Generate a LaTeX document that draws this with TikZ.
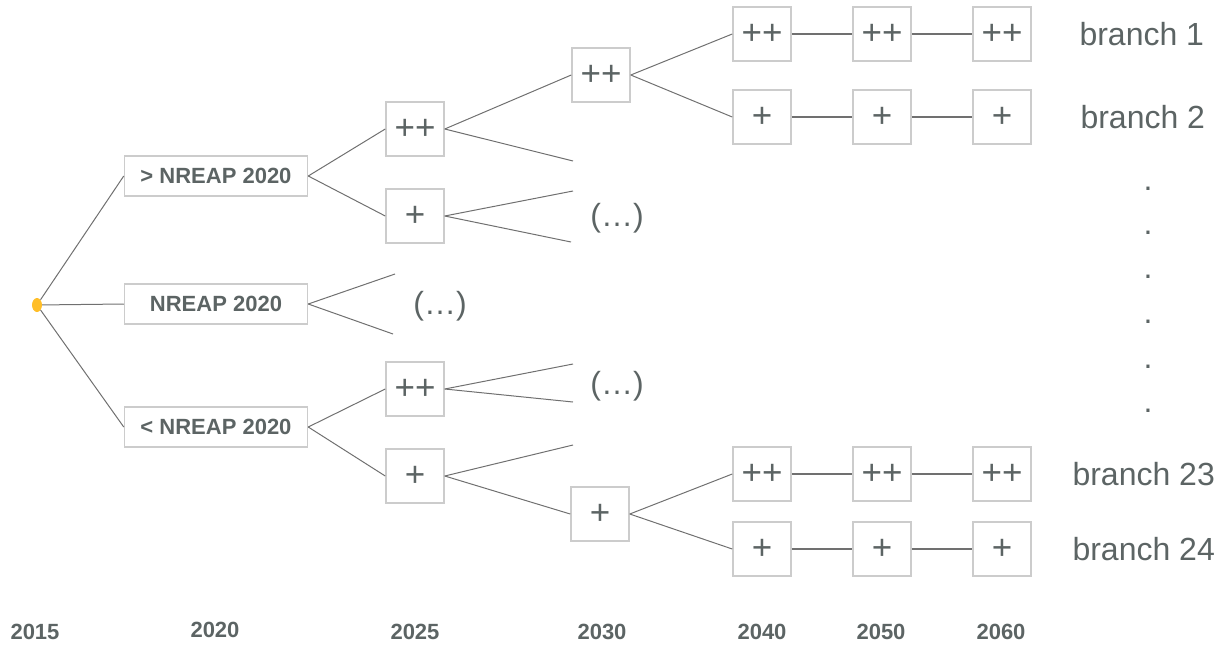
\documentclass[tikz,border=0pt]{standalone}
\usepackage{fontspec}
\setmainfont{Liberation Sans}
\usetikzlibrary{arrows,shapes}
\definecolor{txtgray}{RGB}{92,100,100}
\definecolor{boxgray}{RGB}{204,204,204}
\definecolor{linegray}{RGB}{112,112,112}
\definecolor{rootorange}{RGB}{255,190,40}
\tikzstyle{root}=[ellipse,fill=rootorange,minimum width=10pt,minimum height=14pt,inner sep=0pt]
\tikzstyle{scen}=[draw=boxgray,line width=1.5pt,minimum width=183pt,minimum height=40pt,inner sep=0pt,text=txtgray,font=\fontsize{22}{26}\selectfont\bfseries]
\tikzstyle{lvl}=[draw=boxgray,line width=1.5pt,minimum width=58pt,minimum height=54pt,inner sep=0pt,text=txtgray,font=\fontsize{35}{40}\selectfont]
\tikzstyle{yr}=[text=txtgray,font=\fontsize{22}{26}\selectfont\bfseries]
\tikzstyle{tag}=[text=txtgray,font=\fontsize{32}{38}\selectfont]
\tikzstyle{edge} = [draw=linegray,line width=1pt,-]
\tikzstyle{chain} = [draw=linegray,line width=1.4pt,-]

\begin{document}
\begin{tikzpicture}[x=1pt,y=-1pt]
    \useasboundingbox (0,0) rectangle (1226,646);
    % Root and the three 2020 scenarios
    \node[root] (root) at (37,305) {};
    \foreach \pos/\name/\txt in {{(216,176)/gt/> NREAP 2020}, {(216,304)/eq/NREAP 2020}, {(216,427)/lt/< NREAP 2020}}
        \node[scen] (\name) at \pos {\txt};

    % Boxes of 2025 and 2030
    \foreach \pos/\name/\txt in {{(415,129)/A_pp/++}, {(415,216)/A_p/+}, {(415,389)/C_pp/++}, {(415,476)/C_p/+}, {(601,75)/D_pp/++}, {(600,514)/D_p/+}}
        \node[lvl] (\name) at \pos {\txt};

    % Boxes of 2040, 2050 and 2060
    \foreach \x/\yr in {762/40, 882/50, 1002/60}
    {
        \node[lvl] (b1_\yr) at (\x,34) {++};
        \node[lvl] (b2_\yr) at (\x,117) {+};
        \node[lvl] (b23_\yr) at (\x,474) {++};
        \node[lvl] (b24_\yr) at (\x,549) {+};
    }

    % Loose ends of the branches that are not shown
    \foreach \x/\y/\name in {395/274/e_1, 393/334/e_2, 573/161/e_3, 573/191/e_4, 571/242/e_5, 573/364/e_6, 573/402/e_7, 573/445/e_8}
        \coordinate (\name) at (\x,\y);

    % Connect the boxes
    \foreach \source/\dest in {root/gt.west, root/eq.west, root/lt.west}
        \path[edge] (\source) -- (\dest);
    \foreach \source/\dest in {gt.east/A_pp.west, gt.east/A_p.west, eq.east/e_1, eq.east/e_2, lt.east/C_pp.west, lt.east/C_p.west}
        \path[edge] (\source) -- (\dest);
    \foreach \source/\dest in {A_pp.east/D_pp.west, A_pp.east/e_3, A_p.east/e_4, A_p.east/e_5, C_pp.east/e_6, C_pp.east/e_7, C_p.east/e_8, C_p.east/D_p.west}
        \path[edge] (\source) -- (\dest);
    \foreach \source/\dest in {D_pp.east/b1_40.west, D_pp.east/b2_40.west, D_p.east/b23_40.west, D_p.east/b24_40.west}
        \path[edge] (\source) -- (\dest);
    \foreach \br in {b1, b2, b23, b24}
    {
        \path[chain] (\br_40) -- (\br_50);
        \path[chain] (\br_50) -- (\br_60);
    }

    % Ellipses for the cut branches
    \node[tag] (more_1) at (440,306) {(…)};
    \node[tag] (more_2) at (617,218) {(…)};
    \node[tag] (more_3) at (617,386) {(…)};

    % Branch names
    \node[tag,anchor=west] (n1) at (1076,34) {branch 1};
    \node[tag,anchor=west] (n2) at (1077,117) {branch 2};
    \node[tag,anchor=west] (n23) at (1069,474) {branch 23};
    \node[tag,anchor=west] (n24) at (1069,549) {branch 24};
    \foreach \y in {190,234,278,323,368,412}
        \node[tag,anchor=base] (dot_\y) at (1148,\y) {.};

    % Years
    \foreach \x/\y/\yr in {35/632/2015, 215/630/2020, 415/632/2025, 602/632/2030, 762/632/2040, 881/632/2050, 1001/632/2060}
        \node[yr] (y_\yr) at (\x,\y) {\yr};
\end{tikzpicture}
\end{document}
